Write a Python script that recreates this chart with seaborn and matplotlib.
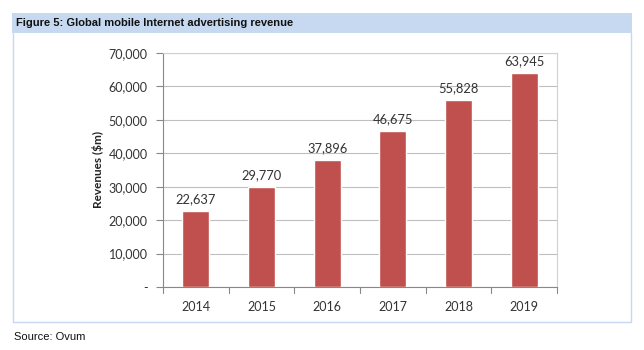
import matplotlib
matplotlib.use("Agg")
import matplotlib.pyplot as plt
import seaborn as sns
import pandas as pd
from matplotlib.patches import Rectangle
from matplotlib.lines import Line2D

years = ["2014", "2015", "2016", "2017", "2018", "2019"]
revenues = [22637, 29770, 37896, 46675, 55828, 63945]
yticks = [0, 10000, 20000, 30000, 40000, 50000, 60000, 70000]
ytick_labels = ["-", "10,000", "20,000", "30,000", "40,000", "50,000", "60,000", "70,000"]
title = "Figure 5: Global mobile Internet advertising revenue"
ylabel = "Revenues ($m)"
source = "Source: Ovum"

df = pd.DataFrame({"year": years, "revenue": revenues})

sns.set_style("white")
W, H = 644, 350
fig = plt.figure(figsize=(W / 100, H / 100), dpi=100)

def fx(px):
    return px / W

def fy(py):
    return 1 - py / H

# header band and frame
fig.patches.append(Rectangle((fx(12), fy(33)), fx(620), 20 / H, transform=fig.transFigure,
                             facecolor="#C6D9F1", edgecolor="none", zorder=0))
frame_col = "#C6D9F1"
fig.lines.append(Line2D([fx(13), fx(13)], [fy(33), fy(322)], transform=fig.transFigure, color=frame_col, lw=1))
fig.lines.append(Line2D([fx(631), fx(631)], [fy(33), fy(322)], transform=fig.transFigure, color=frame_col, lw=1))
fig.lines.append(Line2D([fx(13), fx(631)], [fy(322), fy(322)], transform=fig.transFigure, color=frame_col, lw=1))

fig.text(fx(16), fy(23), title, fontsize=8, fontweight="bold",
         family=["Liberation Sans"], va="center", ha="left", color="#111111")
fig.text(fx(14), fy(337), source, fontsize=8, family=["Liberation Sans"], va="center", ha="left", color="#111111")

ax = fig.add_axes([fx(163), fy(287), fx(557 - 163), (287 - 53) / H])
sns.barplot(data=df, x="year", y="revenue", color="#C0504D", width=0.41, ax=ax, saturation=1, zorder=3)

ax.set_ylim(0, 70000)
ax.set_xlim(-0.5, 5.5)
ax.set_yticks(yticks)
ax.set_yticklabels(ytick_labels, family="Lato", fontsize=9, color="#333333")
ax.set_xticks(range(len(years)))
ax.set_xticklabels(years, family="Lato", fontsize=9, color="#333333")
ax.tick_params(axis="x", length=0, pad=10)
ax.tick_params(axis="y", length=5, color="#888888", direction="out", left=True, pad=6)
# category separator ticks
for b in [i - 0.5 for i in range(len(years) + 1)]:
    ax.plot([b, b], [0, -1800], color="#888888", lw=0.8, clip_on=False, zorder=4)

ax.yaxis.grid(True, color="#BFBFBF", lw=0.8, zorder=0)
ax.set_axisbelow(True)
for s in ["top", "right"]:
    ax.spines[s].set_visible(True)
    ax.spines[s].set_color("#D0D0D0")
    ax.spines[s].set_linewidth(0.8)
ax.spines["left"].set_color("#888888")
ax.spines["bottom"].set_color("#888888")
ax.spines["left"].set_linewidth(0.8)
ax.spines["bottom"].set_linewidth(0.8)

ax.set_xlabel("")
ax.set_ylabel(ylabel, family="Lato", fontweight="bold", fontsize=8.5, color="#222222", labelpad=3)

for i, v in enumerate(revenues):
    ax.text(i, v + 1800, f"{v:,}", ha="center", va="bottom", family="Lato", fontsize=9.3, color="#333333")

fig.savefig("out.png", dpi=100)
